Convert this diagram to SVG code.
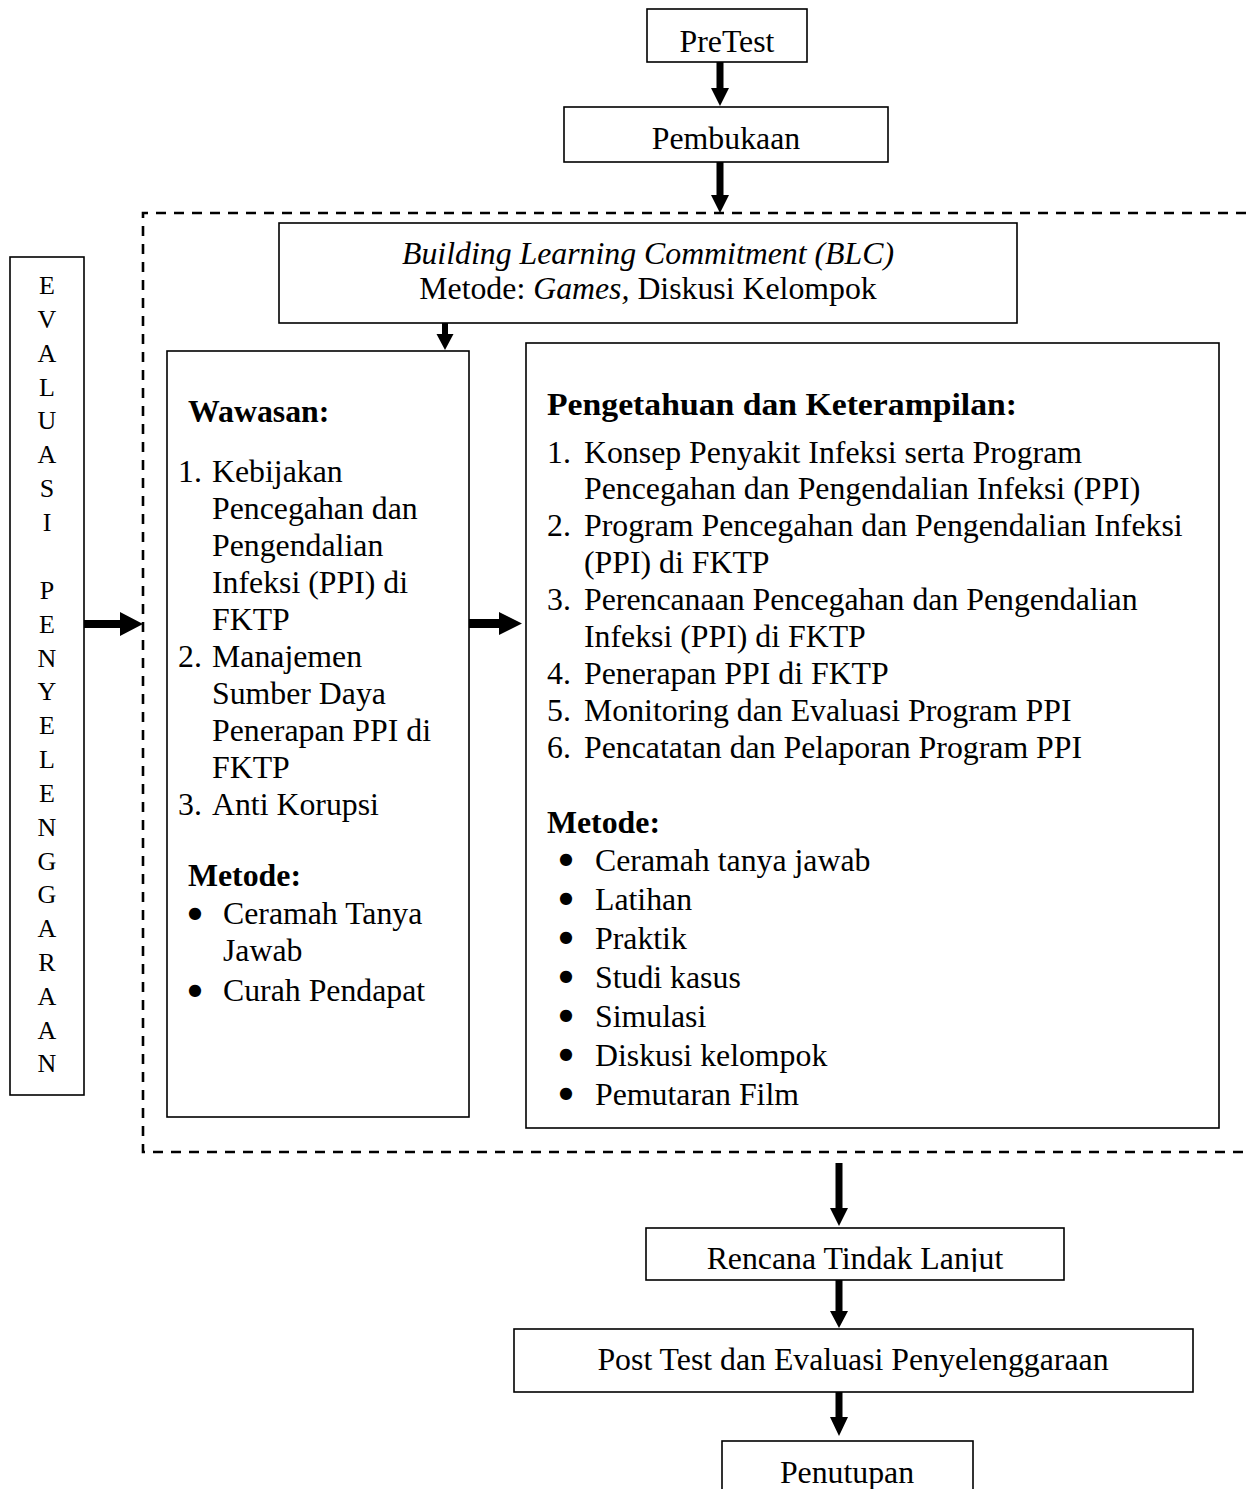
<svg xmlns="http://www.w3.org/2000/svg" width="1246" height="1489" viewBox="0 0 1246 1489">
<style>
.t{font-family:"Liberation Serif","Times New Roman",serif;font-size:31.8px;fill:#000}
.b{font-weight:bold}
.i{font-style:italic}
.c{text-anchor:middle}
.bu{font-family:"DejaVu Sans",sans-serif;font-size:16px;text-anchor:middle;fill:#000}
.box{fill:#fff;stroke:#000;stroke-width:1.6}
.dash{fill:none;stroke:#000;stroke-width:2.6;stroke-dasharray:10 8}
.ev{font-family:"Liberation Serif","Times New Roman",serif;font-size:26px;text-anchor:middle;fill:#000}
.arr{fill:#000;stroke:none}
</style>
<defs>
<clipPath id="clipRTL"><rect x="640" y="1226" width="430" height="46"/></clipPath>
</defs>
<rect width="1246" height="1489" fill="#fff"/>

<g id="frame">
<path class="dash" d="M1246 213 H143 V1152 H1246"/>
</g>

<g id="pretest">
<rect class="box" x="647" y="9" width="160" height="53"/>
<text class="t c" x="727" y="52">PreTest</text>
</g>

<g id="pembukaan">
<rect class="box" x="564" y="107" width="324" height="55"/>
<text class="t c" x="726" y="149">Pembukaan</text>
</g>

<g id="blc">
<rect class="box" x="279" y="223" width="738" height="100"/>
<text class="t c i" x="648" y="264">Building Learning Commitment (BLC)</text>
<text class="t c" x="648" y="299">Metode: <tspan class="i">Games,</tspan> Diskusi Kelompok</text>
</g>

<g id="evaluasi">
<rect class="box" x="10" y="257" width="74" height="838"/>
<text class="ev" x="47" y="294">E</text>
<text class="ev" x="47" y="328">V</text>
<text class="ev" x="47" y="362">A</text>
<text class="ev" x="47" y="396">L</text>
<text class="ev" x="47" y="429">U</text>
<text class="ev" x="47" y="463">A</text>
<text class="ev" x="47" y="497">S</text>
<text class="ev" x="47" y="531">I</text>
<text class="ev" x="47" y="599">P</text>
<text class="ev" x="47" y="633">E</text>
<text class="ev" x="47" y="667">N</text>
<text class="ev" x="47" y="700">Y</text>
<text class="ev" x="47" y="734">E</text>
<text class="ev" x="47" y="768">L</text>
<text class="ev" x="47" y="802">E</text>
<text class="ev" x="47" y="836">N</text>
<text class="ev" x="47" y="870">G</text>
<text class="ev" x="47" y="903">G</text>
<text class="ev" x="47" y="937">A</text>
<text class="ev" x="47" y="971">R</text>
<text class="ev" x="47" y="1005">A</text>
<text class="ev" x="47" y="1039">A</text>
<text class="ev" x="47" y="1072">N</text>
</g>

<g id="wawasan">
<rect class="box" x="167" y="351" width="302" height="766"/>
<text class="t b" x="188" y="422">Wawasan:</text>
<text class="t" x="178" y="482">1.</text>
<text class="t" x="212" y="482">Kebijakan</text>
<text class="t" x="212" y="519">Pencegahan dan</text>
<text class="t" x="212" y="556">Pengendalian</text>
<text class="t" x="212" y="593">Infeksi (PPI) di</text>
<text class="t" x="212" y="630">FKTP</text>
<text class="t" x="178" y="667">2.</text>
<text class="t" x="212" y="667">Manajemen</text>
<text class="t" x="212" y="704">Sumber Daya</text>
<text class="t" x="212" y="741">Penerapan PPI di</text>
<text class="t" x="212" y="778">FKTP</text>
<text class="t" x="178" y="815">3.</text>
<text class="t" x="212" y="815">Anti Korupsi</text>
<text class="t b" x="188" y="886">Metode:</text>
<text class="bu" x="195" y="918">●</text>
<text class="t" x="223" y="924">Ceramah Tanya</text>
<text class="t" x="223" y="961">Jawab</text>
<text class="bu" x="195" y="995">●</text>
<text class="t" x="223" y="1001">Curah Pendapat</text>
</g>

<g id="pengetahuan">
<rect class="box" x="526" y="343" width="693" height="785"/>
<text class="t b" x="547" y="415" textLength="470" lengthAdjust="spacingAndGlyphs">Pengetahuan dan Keterampilan:</text>
<text class="t" x="547" y="463">1.</text>
<text class="t" x="584" y="463">Konsep Penyakit Infeksi serta Program</text>
<text class="t" x="584" y="499">Pencegahan dan Pengendalian Infeksi (PPI)</text>
<text class="t" x="547" y="536">2.</text>
<text class="t" x="584" y="536">Program Pencegahan dan Pengendalian Infeksi</text>
<text class="t" x="584" y="573">(PPI) di FKTP</text>
<text class="t" x="547" y="610">3.</text>
<text class="t" x="584" y="610">Perencanaan Pencegahan dan Pengendalian</text>
<text class="t" x="584" y="647">Infeksi (PPI) di FKTP</text>
<text class="t" x="547" y="684">4.</text>
<text class="t" x="584" y="684">Penerapan PPI di FKTP</text>
<text class="t" x="547" y="721">5.</text>
<text class="t" x="584" y="721">Monitoring dan Evaluasi Program PPI</text>
<text class="t" x="547" y="758">6.</text>
<text class="t" x="584" y="758">Pencatatan dan Pelaporan Program PPI</text>
<text class="t b" x="547" y="833">Metode:</text>
<text class="bu" x="566" y="864">●</text>
<text class="t" x="595" y="871">Ceramah tanya jawab</text>
<text class="bu" x="566" y="903">●</text>
<text class="t" x="595" y="910">Latihan</text>
<text class="bu" x="566" y="942">●</text>
<text class="t" x="595" y="949">Praktik</text>
<text class="bu" x="566" y="981">●</text>
<text class="t" x="595" y="988">Studi kasus</text>
<text class="bu" x="566" y="1020">●</text>
<text class="t" x="595" y="1027">Simulasi</text>
<text class="bu" x="566" y="1059">●</text>
<text class="t" x="595" y="1066">Diskusi kelompok</text>
<text class="bu" x="566" y="1098">●</text>
<text class="t" x="595" y="1105">Pemutaran Film</text>
</g>

<g id="rtl">
<rect class="box" x="646" y="1228" width="418" height="52"/>
<text class="t c" x="855" y="1269" clip-path="url(#clipRTL)">Rencana Tindak Lanjut</text>
</g>

<g id="posttest">
<rect class="box" x="514" y="1329" width="679" height="63"/>
<text class="t c" x="853" y="1370">Post Test dan Evaluasi Penyelenggaraan</text>
</g>

<g id="penutupan">
<rect class="box" x="722" y="1441" width="251" height="60"/>
<text class="t c" x="847" y="1483">Penutupan</text>
</g>

<g id="connectors">
<polygon class="arr" points="716.5,62 723.5,62 723.5,88 729,88 720,106 711,88 716.5,88"/>
<polygon class="arr" points="716.5,162 723.5,162 723.5,195 729,195 720,213 711,195 716.5,195"/>
<polygon class="arr" points="442,323 448,323 448,334 453.5,334 445,350 436.5,334 442,334"/>
<polygon class="arr" points="84,620 120,620 120,612 143,624 120,636 120,628 84,628"/>
<polygon class="arr" points="469,619 499,619 499,612 522,623.5 499,635 499,628 469,628"/>
<polygon class="arr" points="835.5,1163 842.5,1163 842.5,1208 848,1208 839,1226 830,1208 835.5,1208"/>
<polygon class="arr" points="835.5,1280 842.5,1280 842.5,1311 848,1311 839,1328 830,1311 835.5,1311"/>
<polygon class="arr" points="835.5,1392 842.5,1392 842.5,1417 848,1417 839,1436 830,1417 835.5,1417"/>
</g>
</svg>
